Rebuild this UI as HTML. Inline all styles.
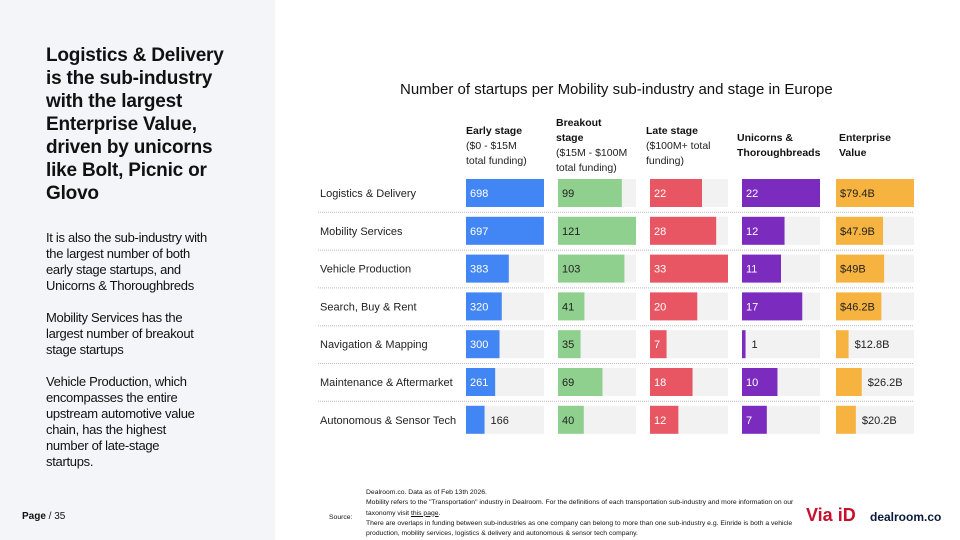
<!DOCTYPE html>
<html><head><meta charset="utf-8"><style>
body{margin:0;width:960px;height:540px;overflow:hidden;background:#fff;font-family:"Liberation Sans",sans-serif;position:relative;color:#111}
#left{position:absolute;left:0;top:0;width:275px;height:540px;background:#f4f5f8}
h1{position:absolute;left:46px;top:44px;margin:0;font-size:19px;line-height:23px;font-weight:bold;width:220px;letter-spacing:-0.2px}
.body{position:absolute;left:46px;top:230px;width:220px;font-size:13px;line-height:16px;letter-spacing:-0.3px}
.body p{margin:0 0 16px 0}
.page{position:absolute;left:22px;top:511px;font-size:10px}
#title{position:absolute;left:400px;top:81px;font-size:15px}
.hd{position:absolute;font-size:10.5px;line-height:15px;color:#222}
.hd b{color:#111}
.src{position:absolute;left:366px;top:488px;font-size:6.8px;line-height:10.3px;width:430px}
</style></head><body>
<div id="left"></div>
<h1>Logistics &amp; Delivery<br>is the sub-industry<br>with the largest<br>Enterprise Value,<br>driven by unicorns<br>like Bolt, Picnic or<br>Glovo</h1>
<div class="body">
<p>It is also the sub-industry with<br>the largest number of both<br>early stage startups, and<br>Unicorns &amp; Thoroughbreds</p>
<p>Mobility Services has the<br>largest number of breakout<br>stage startups</p>
<p>Vehicle Production, which<br>encompasses the entire<br>upstream automotive value<br>chain, has the highest<br>number of late-stage<br>startups.</p></div>
<div class="page"><b>Page</b> / 35</div>
<div id="title">Number of startups per Mobility sub-industry and stage in Europe</div>
<div class="hd" style="left:466px;top:124px"><b>Early stage</b><br>($0 - $15M<br>total funding)</div>
<div class="hd" style="left:556px;top:116px"><b>Breakout<br>stage</b><br>($15M - $100M<br>total funding)</div>
<div class="hd" style="left:646px;top:124px"><b>Late stage</b><br>($100M+ total<br>funding)</div>
<div class="hd" style="left:737px;top:131px"><b>Unicorns &amp;<br>Thoroughbreads</b></div>
<div class="hd" style="left:839px;top:131px"><b>Enterprise<br>Value</b></div>
<svg id="chart" width="960" height="540" style="position:absolute;left:0;top:0"></svg>
<div class="src"><span style="position:absolute;left:-37px;top:25px">Source:</span>Dealroom.co. Data as of Feb 13th 2026.<br>Mobility refers to the "Transportation" industry in Dealroom. For the definitions of each transportation sub-industry and more information on our taxonomy visit <u>this page</u>.<br>There are overlaps in funding between sub-industries as one company can belong to more than one sub-industry e.g. Einride is both a vehicle production, mobility services, logistics &amp; delivery and autonomous &amp; sensor tech company.</div>
<div style="position:absolute;left:806px;top:505px;font-size:18px;color:#c8102e;font-weight:bold">Via iD</div>
<div style="position:absolute;left:870px;top:510px;font-size:12px;font-weight:bold;color:#0a1a3a">dealroom.co</div>
<script>
const categories=["Logistics & Delivery","Mobility Services","Vehicle Production","Search, Buy & Rent","Navigation & Mapping","Maintenance & Aftermarket","Autonomous & Sensor Tech"];
const early=[698,697,383,320,300,261,166];
const breakout=[99,121,103,41,35,69,40];
const late=[22,28,33,20,7,18,12];
const unicorns=[22,12,11,17,1,10,7];
const ev=[79.4,47.9,49,46.2,12.8,26.2,20.2];
const evLabels=["$79.4B","$47.9B","$49B","$46.2B","$12.8B","$26.2B","$20.2B"];
const svg=document.getElementById('chart');const NS='http://www.w3.org/2000/svg';
const cols=[{d:early,x:466,c:'#4285f4',t:'#fff',n:'early'},{d:breakout,x:558,c:'#8fd08e',t:'#222',n:'breakout'},{d:late,x:650,c:'#e85563',t:'#fff',n:'late'},{d:unicorns,x:742,c:'#7b2cbf',t:'#fff',n:'unicorns'},{d:ev,x:836,c:'#f7b33f',t:'#222',n:'ev',lab:evLabels}];
const W=78,top0=179,pitch=37.8,bh=28;
function y(i){return top0+i*pitch}
categories.forEach((cat,i)=>{
 const t=document.createElementNS(NS,'text');t.setAttribute('x',320);t.setAttribute('y',y(i)+18);t.setAttribute('font-size','11');t.setAttribute('fill','#222');t.textContent=cat;
 
 svg.appendChild(t);
 if(i<categories.length-1){const l=document.createElementNS(NS,'line');l.setAttribute('x1',318);l.setAttribute('x2',914);l.setAttribute('y1',y(i)+pitch-4.5);l.setAttribute('y2',y(i)+pitch-4.5);l.setAttribute('stroke','#bbb');l.setAttribute('stroke-dasharray','1 1');
 
 svg.appendChild(l);}
});
cols.forEach(col=>{const mx=Math.max(...col.d);
 col.d.forEach((v,i)=>{
  const bg=document.createElementNS(NS,'rect');bg.setAttribute('x',col.x);bg.setAttribute('y',y(i));bg.setAttribute('width',W);bg.setAttribute('height',bh);bg.setAttribute('fill','#f2f2f2');
  
  svg.appendChild(bg);
  const w=v/mx*W;const r=document.createElementNS(NS,'rect');r.setAttribute('x',col.x);r.setAttribute('y',y(i));r.setAttribute('width',w);r.setAttribute('height',bh);r.setAttribute('fill',col.c);
  
  svg.appendChild(r);
  const lab=col.lab?col.lab[i]:String(v);const tw=lab.length*6+8;const inside=w>=tw;
  const t=document.createElementNS(NS,'text');t.setAttribute('x',inside?col.x+4:col.x+w+6);t.setAttribute('y',y(i)+18);t.setAttribute('font-size','11');t.setAttribute('fill',inside?col.t:'#222');t.textContent=lab;
  
  svg.appendChild(t);
 });});
</script>
</body></html>
